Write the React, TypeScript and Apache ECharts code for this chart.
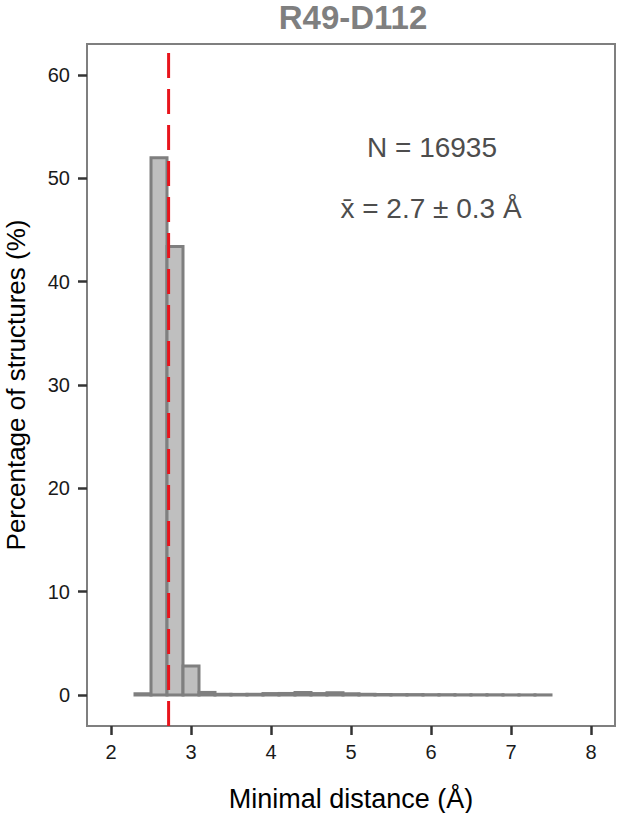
import React, { useEffect, useRef } from "react";
import * as echarts from "echarts";

const binEdges = [2.3, 2.5, 2.7, 2.9, 3.1, 3.3, 3.5, 3.7, 3.9, 4.1, 4.3, 4.5, 4.7, 4.9, 5.1, 5.3, 5.5, 5.7, 5.9, 6.1, 6.3, 6.5, 6.7, 6.9, 7.1, 7.3, 7.5];
const pctValues = [0.12, 52.0, 43.4, 2.8, 0.25, 0.07, 0.06, 0.07, 0.14, 0.15, 0.24, 0.14, 0.22, 0.12, 0.07, 0.05, 0.04, 0.04, 0.03, 0.03, 0.02, 0.02, 0.02, 0.01, 0.01, 0.01];
const meanValue = 2.72;
const xTicks = [2, 3, 4, 5, 6, 7, 8];
const yTicks = [0, 10, 20, 30, 40, 50, 60];
const titleText = "R49-D112";
const nText = "N = 16935";
const meanText = "x\u0304 = 2.7 \u00b1 0.3 \u00c5";

const FONT = "Liberation Sans, Arial, Helvetica, sans-serif";

export default function App() {
  const ref = useRef<HTMLDivElement>(null);
  useEffect(() => {
    if (!ref.current) return;
    const chart = echarts.init(ref.current, null, { renderer: "svg" });
    const histData = pctValues.map((v, i) => [binEdges[i], binEdges[i + 1], v]);
    chart.setOption({
      animation: false,
      backgroundColor: "#ffffff",
      textStyle: { fontFamily: FONT },
      title: {
        text: titleText,
        left: 353,
        top: 1,
        padding: 0,
        textAlign: "center",
        textStyle: { fontFamily: FONT, fontSize: 33, fontWeight: "bold", color: "#7f7f7f" },
      },
      grid: {
        left: 87,
        right: 2,
        top: 44,
        bottom: 87,
        show: true,
        borderColor: "#7f7f7f",
        borderWidth: 2,
        backgroundColor: "transparent",
        containLabel: false,
        outerBoundsMode: "none",
      },
      xAxis: {
        type: "value",
        min: 1.7,
        max: 8.3,
        name: "Minimal distance (\u00c5)",
        nameLocation: "middle",
        nameGap: 59,
        nameTextStyle: { fontFamily: FONT, fontSize: 27, color: "#000000" },
        axisLine: { show: false, onZero: false },
        splitLine: { show: false },
        axisTick: {
          show: true,
          length: 9,
          customValues: xTicks,
          lineStyle: { color: "#333333", width: 2.5 },
        },
        axisLabel: {
          customValues: xTicks,
          margin: 16,
          fontFamily: FONT,
          fontSize: 20,
          color: "#1a1a1a",
        },
      },
      yAxis: {
        type: "value",
        min: -3,
        max: 63,
        name: "Percentage of structures (%)",
        nameLocation: "middle",
        nameGap: 58,
        nameRotate: 90,
        nameTextStyle: { fontFamily: FONT, fontSize: 26, color: "#000000" },
        axisLine: { show: false, onZero: false },
        splitLine: { show: false },
        axisTick: {
          show: true,
          length: 9,
          customValues: yTicks,
          lineStyle: { color: "#333333", width: 2.5 },
        },
        axisLabel: {
          customValues: yTicks,
          margin: 17,
          fontFamily: FONT,
          fontSize: 20,
          color: "#1a1a1a",
        },
      },
      series: [
        {
          type: "custom",
          clip: true,
          data: histData,
          encode: { x: [0, 1], y: 2 },
          renderItem: (params: any, api: any) => {
            const x0 = api.value(0);
            const x1 = api.value(1);
            const v = api.value(2);
            const p0 = api.coord([x0, v]);
            const p1 = api.coord([x1, 0]);
            return {
              type: "rect",
              shape: { x: p0[0], y: p0[1], width: p1[0] - p0[0], height: p1[1] - p0[1] },
              style: { fill: "#bfbfbf", stroke: "#7f7f7f", lineWidth: 3 },
            };
          },
        },
        {
          type: "line",
          data: [
            [meanValue, -3],
            [meanValue, 63],
          ],
          symbol: "none",
          silent: true,
          lineStyle: { color: "#e8141c", width: 3, type: [25, 11], dashOffset: 0 },
        },
      ],
      graphic: [
        {
          type: "text",
          x: 432,
          y: 147,
          style: {
            text: nText,
            fontFamily: FONT,
            fontSize: 28,
            fill: "#4d4d4d",
            textAlign: "center",
            textVerticalAlign: "middle",
          },
        },
        {
          type: "text",
          x: 431,
          y: 208,
          style: {
            text: meanText,
            fontFamily: FONT,
            fontSize: 28,
            fill: "#4d4d4d",
            textAlign: "center",
            textVerticalAlign: "middle",
          },
        },
      ],
    });
    return () => chart.dispose();
  }, []);
  return (
    <div
      ref={ref}
      style={{ position: "fixed", left: 0, top: 0, width: 617, height: 813 }}
    />
  );
}
